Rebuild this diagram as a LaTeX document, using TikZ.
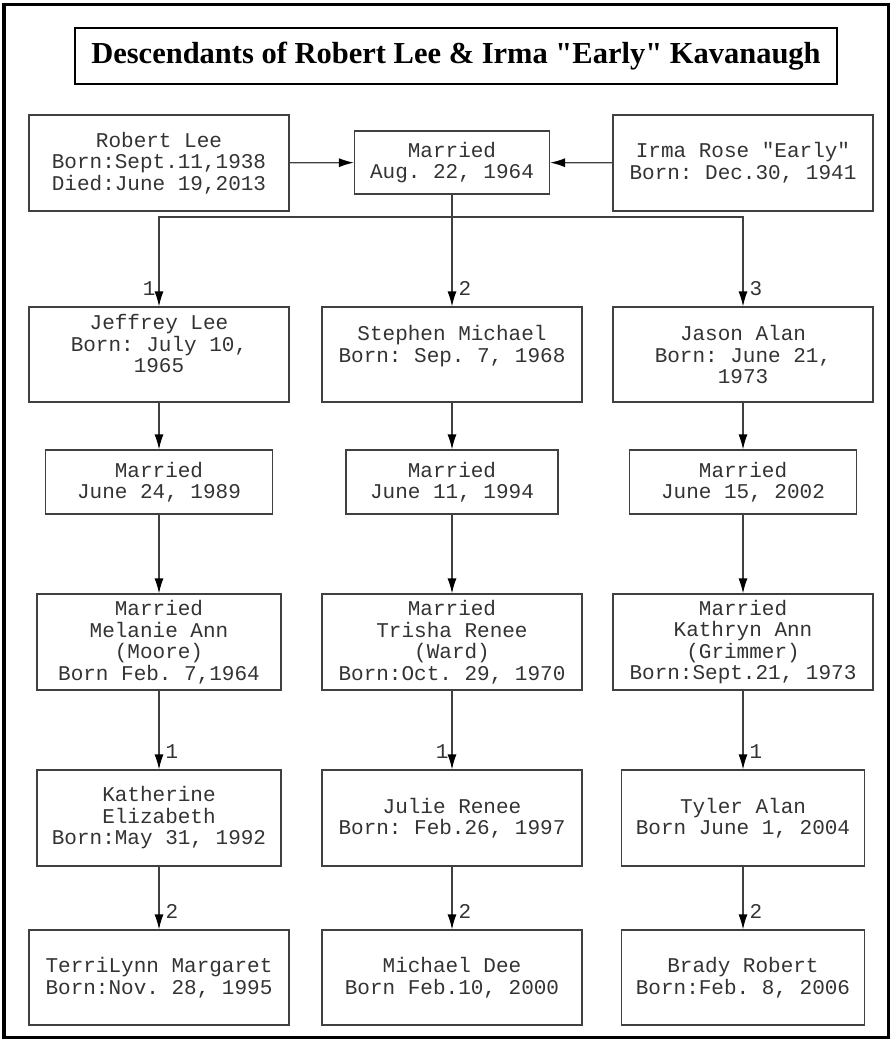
\documentclass[tikz,border=0pt]{standalone}
\usepackage{fontspec}
\setmainfont{Liberation Serif}
\newfontfamily\titlefont{Liberation Serif}
\setmonofont{Liberation Mono}
\usepackage{tikz}
\usetikzlibrary{arrows.meta}
\newcommand\boxfont{\ttfamily\fontsize{21}{21.5}\selectfont}
\tikzstyle{TitleNode}=[rectangle, draw=black, line width=2pt, minimum width=762pt, minimum height=56pt, font=\titlefont\bfseries\fontsize{30.5}{32}\selectfont]
\tikzstyle{PersonNode}=[rectangle, draw=black!75, line width=1.2pt, inner sep=0pt, align=center, text=black!80, font=\boxfont, minimum width=260pt, minimum height=96pt]
\tikzstyle{WedNode}=[PersonNode, minimum height=64pt]
\tikzstyle{LinkEdge}=[-{Latex[length=15pt,width=9pt,color=black]}, draw=black!75, line width=1.2pt]
\tikzstyle{NumRight}=[at end, anchor=south west, inner sep=1pt, xshift=5pt, yshift=9pt, text=black!80, font=\boxfont]
\tikzstyle{NumLeft}=[NumRight, anchor=south east, xshift=-7pt]

\begin{document}
\begin{tikzpicture}[x=1pt, y=-1pt]
\useasboundingbox (0,0) rectangle (892,1040);
\draw[line width=3.5pt] (4,4.5) rectangle (888.5,1037.5);
\node[TitleNode](TITLE) at (456,56) {Descendants of Robert Lee \& Irma "Early" Kavanaugh};

% parents
\node[PersonNode](ROBERT) at (159,163) {Robert Lee\\Born:Sept.11,1938\\Died:June 19,2013};
\node[WedNode, minimum width=195pt, minimum height=63pt](WED0) at (452,162.5) {Married\\Aug. 22, 1964};
\node[PersonNode](IRMA) at (743,163) {Irma Rose "Early"\\Born: Dec.30, 1941};
\coordinate (FORK) at (452,217);

% children
\node[PersonNode, minimum height=95pt](JEFFREY) at (159,354.5) {Jeffrey Lee\\Born: July 10,\\1965\\\mbox{}};
\node[PersonNode, minimum height=95pt](STEPHEN) at (452,354.5) {Stephen Michael\\Born: Sep. 7, 1968\\\mbox{}};
\node[PersonNode, minimum height=95pt](JASON) at (743,354.5) {Jason Alan\\Born: June 21,\\1973};

\node[WedNode, minimum width=227pt](WED1) at (159,482) {Married\\June 24, 1989};
\node[WedNode, minimum width=212pt](WED2) at (452,482) {Married\\June 11, 1994};
\node[WedNode, minimum width=227pt](WED3) at (743,482) {Married\\June 15, 2002};

\node[PersonNode, minimum width=244pt](SPOUSE1) at (159,642) {Married\\Melanie Ann\\(Moore)\\Born Feb. 7,1964};
\node[PersonNode](SPOUSE2) at (452,642) {Married\\Trisha Renee\\(Ward)\\Born:Oct. 29, 1970};
\node[PersonNode](SPOUSE3) at (743,642) {Married\\Kathryn Ann\\(Grimmer)\\Born:Sept.21, 1973};

% grandchildren
\node[PersonNode, minimum width=244pt](KATHERINE) at (159,818) {Katherine\\Elizabeth\\Born:May 31, 1992};
\node[PersonNode](JULIE) at (452,818) {Julie Renee\\Born: Feb.26, 1997};
\node[PersonNode, minimum width=243pt](TYLER) at (743,818) {Tyler Alan\\Born June 1, 2004};

\node[PersonNode, minimum height=95pt](TERRI) at (159,977.5) {TerriLynn Margaret\\Born:Nov. 28, 1995};
\node[PersonNode, minimum height=95pt](MICHAEL) at (452,977.5) {Michael Dee\\Born Feb.10, 2000};
\node[PersonNode, minimum width=243pt, minimum height=95pt](BRADY) at (743,977.5) {Brady Robert\\Born:Feb. 8, 2006};

\draw[LinkEdge](ROBERT) -- (WED0);
\draw[LinkEdge](IRMA) -- (WED0);
\draw[LinkEdge](WED0) -- (STEPHEN) node[NumRight] {2};
\draw[LinkEdge](FORK) -| (JEFFREY) node[NumLeft] {1};
\draw[LinkEdge](FORK) -| (JASON) node[NumRight] {3};

\draw[LinkEdge](JEFFREY) -- (WED1);
\draw[LinkEdge](STEPHEN) -- (WED2);
\draw[LinkEdge](JASON) -- (WED3);
\draw[LinkEdge](WED1) -- (SPOUSE1);
\draw[LinkEdge](WED2) -- (SPOUSE2);
\draw[LinkEdge](WED3) -- (SPOUSE3);

\draw[LinkEdge](SPOUSE1) -- (KATHERINE) node[NumRight] {1};
\draw[LinkEdge](SPOUSE2) -- (JULIE) node[NumLeft] {1};
\draw[LinkEdge](SPOUSE3) -- (TYLER) node[NumRight] {1};
\draw[LinkEdge](KATHERINE) -- (TERRI) node[NumRight] {2};
\draw[LinkEdge](JULIE) -- (MICHAEL) node[NumRight] {2};
\draw[LinkEdge](TYLER) -- (BRADY) node[NumRight] {2};
\end{tikzpicture}
\end{document}
